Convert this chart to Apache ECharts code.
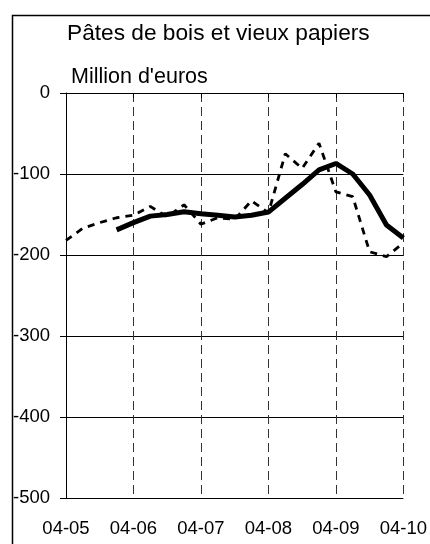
<!DOCTYPE html>
<html>
<head>
<meta charset="utf-8">
<script src="https://cdn.jsdelivr.net/npm/echarts@6/dist/echarts.min.js"></script>
<style>
  html, body { margin: 0; padding: 0; background: #fff; }
  #chart { width: 430px; height: 544px; }
</style>
</head>
<body>
<div id="chart"></div>
<script>
// quarterly periods, month-year
const periods = [
  "04-05", "07-05", "10-05", "01-06",
  "04-06", "07-06", "10-06", "01-07",
  "04-07", "07-07", "10-07", "01-08",
  "04-08", "07-08", "10-08", "01-09",
  "04-09", "07-09", "10-09", "01-10",
  "04-10"
];

// quarterly balance (dashed)
const quarterly = [
  -182, -167, -160, -154, -151, -140, -153, -138, -162, -154,
  -156, -133, -148, -75, -93, -62, -122, -128, -196, -202, -185
];

// moving average (solid)
const smoothed = [
  null, null, null, -169, -160, -152, -150, -146.5, -149, -151,
  -153, -151, -147, -130, -113, -95, -87, -100, -126, -163, -179
];

const yTicks = { min: -500, max: 0, interval: 100 };

const font = "'Liberation Sans', Arial, sans-serif";

const chart = echarts.init(document.getElementById("chart"));

chart.setOption({
  animation: false,
  backgroundColor: "#fff",
  graphic: [
    {
      type: "rect",
      left: 10,
      top: 13,
      shape: { width: 440, height: 560 },
      style: { fill: "none", stroke: "#000", lineWidth: 1.5 },
      silent: true
    }
  ],
  title: [
    {
      text: "Pâtes de bois et vieux papiers",
      left: 67,
      top: 22,
      padding: 0,
      textStyle: { fontFamily: font, fontSize: 22.7, fontWeight: "normal", color: "#000" }
    },
    {
      text: "Million d'euros",
      left: 71,
      top: 66,
      padding: 0,
      textStyle: { fontFamily: font, fontSize: 21.5, fontWeight: "normal", color: "#000" }
    }
  ],
  grid: { left: 66, right: 25, top: 93, bottom: 46 },
  xAxis: {
    type: "category",
    data: periods,
    boundaryGap: false,
    axisLine: { show: true, lineStyle: { color: "#000", width: 1 } },
    axisTick: { show: true, interval: 3, length: 5, lineStyle: { color: "#000" } },
    axisLabel: {
      interval: 3,
      margin: 21,
      color: "#000",
      fontFamily: font,
      fontSize: 18.5
    },
    splitLine: {
      show: true,
      interval: 3,
      lineStyle: { color: "#333", width: 1, type: [9, 5] }
    }
  },
  yAxis: {
    type: "value",
    min: yTicks.min,
    max: yTicks.max,
    interval: yTicks.interval,
    axisLine: { show: true, lineStyle: { color: "#000", width: 1 } },
    axisTick: { show: true, length: 6, lineStyle: { color: "#000" } },
    axisLabel: {
      margin: 16,
      color: "#000",
      fontFamily: font,
      fontSize: 18.5
    },
    splitLine: { show: true, lineStyle: { color: "#000", width: 1 } }
  },
  series: [
    {
      name: "quarterly",
      type: "line",
      data: quarterly,
      symbol: "none",
      lineStyle: { color: "#000", width: 2.8, type: [7, 6] },
      z: 3
    },
    {
      name: "smoothed",
      type: "line",
      data: smoothed,
      symbol: "none",
      connectNulls: false,
      lineStyle: { color: "#000", width: 5 },
      z: 4
    }
  ]
});
</script>
</body>
</html>
